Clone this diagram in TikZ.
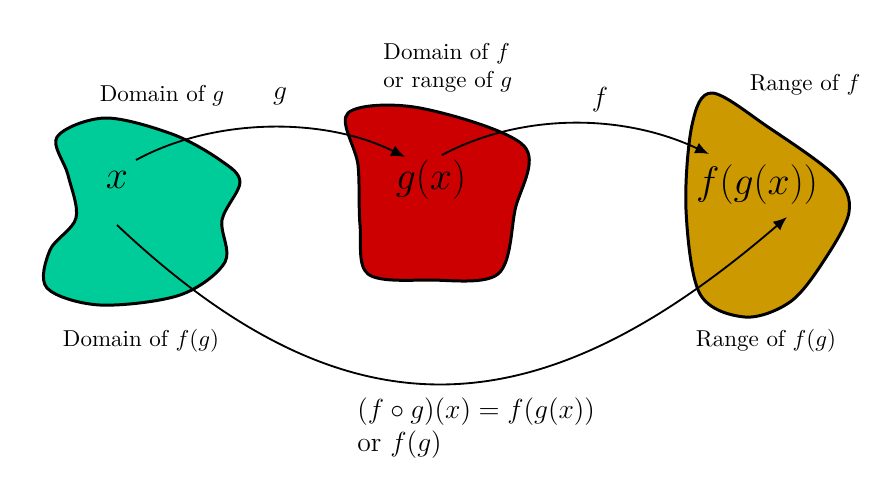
\documentclass[tikz,border=0pt]{standalone}
\usetikzlibrary{arrows.meta}
\definecolor{blobgreen}{RGB}{0,204,153}
\definecolor{blobred}{RGB}{204,0,0}
\definecolor{blobochre}{RGB}{204,153,0}
\begin{document}
\begin{tikzpicture}[x=0.435pt,y=-0.435pt,
  blob/.style={draw=black,line width=1.3pt,line join=round},
  maparrow/.style={line width=0.8pt,-{Latex[length=6pt,width=5pt]}},
  lbl/.style={inner sep=0pt,font=\normalsize},
  biglbl/.style={inner sep=0pt,font=\LARGE},
  fnlbl/.style={inner sep=0pt,font=\large}]
\useasboundingbox (0,0) rectangle (885,477);
% blobs
\path[blob,fill=blobgreen] plot[smooth cycle,tension=0.55] coordinates {
  (57,137) (105,118) (172,134) (220,160) (240,182) (222,220) (225,262) (180,295)
  (100,305) (47,288) (50,250) (76,218) (68,175)};
\path[blob,fill=blobred] plot[smooth cycle,tension=0.55] coordinates {
  (348,113) (420,108) (524,146) (515,210) (498,274) (430,280)
  (368,274) (360,225) (358,165)};
\path[blob,fill=blobochre] plot[smooth cycle,tension=0.55] coordinates {
  (712,93) (768,127) (835,176) (849,212) (823,262) (790,302) (745,317)
  (700,294) (686,210) (692,125)};
% main labels
\node[biglbl] (x) at (117,180) {$x$};
\node[biglbl] (gx) at (431,180) {$g(x)$};
\node[biglbl] (fgx) at (757,185) {$f(g(x))$};
% arrow end points
\coordinate (gs) at (136,160);
\coordinate (ge) at (405,157);
\coordinate (fs) at (442,155);
\coordinate (fe) at (709,154);
\coordinate (hs) at (117,225);
\coordinate (he) at (787,217);
\draw[maparrow] (gs) .. controls (215,117) and (325,117) .. (ge);
\draw[maparrow] (fs) .. controls (521,113) and (622,113) .. (fe);
\draw[maparrow] (hs) .. controls (350,445) and (540,430) .. (he);
% text labels
\node[lbl] (domg) at (162,96) {Domain of $g$};
\node[fnlbl] (glbl) at (280,96) {$g$};
\node[lbl,align=left,anchor=west] (domf) at (383,68) {Domain of $f$\\or range of $g$};
\node[fnlbl] (flbl) at (600,100) {$f$};
\node[lbl] (rngf) at (805,85) {Range of $f$};
\node[lbl] (domfg) at (141,341) {Domain of $f(g)$};
\node[lbl] (rngfg) at (766,341) {Range of $f(g)$};
\node[fnlbl,align=left,anchor=west] (comp) at (357,428) {$(f\circ g)(x)=f(g(x))$\\or $f(g)$};
\end{tikzpicture}
\end{document}
